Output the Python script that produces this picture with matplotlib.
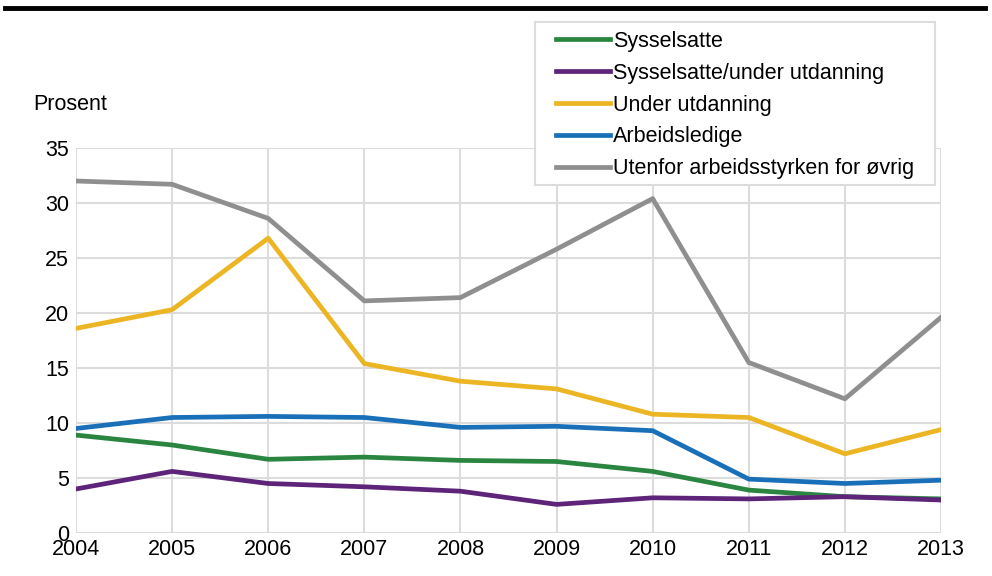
import numpy as np
import matplotlib.pyplot as plt
import matplotlib
from matplotlib.patches import Rectangle

matplotlib.rcParams['font.family'] = ['Liberation Sans', 'DejaVu Sans']

years = [2004, 2005, 2006, 2007, 2008, 2009, 2010, 2011, 2012, 2013]

sysselsatte = [8.9, 8.0, 6.7, 6.9, 6.6, 6.5, 5.6, 3.9, 3.3, 3.1]
syss_utd = [4.0, 5.6, 4.5, 4.2, 3.8, 2.6, 3.2, 3.1, 3.3, 3.0]
under_utd = [18.6, 20.3, 26.8, 15.4, 13.8, 13.1, 10.8, 10.5, 7.2, 9.4]
arbeidsledige = [9.5, 10.5, 10.6, 10.5, 9.6, 9.7, 9.3, 4.9, 4.5, 4.8]
utenfor = [32.0, 31.7, 28.6, 21.1, 21.4, 25.8, 30.4, 15.5, 12.2, 19.6]

labels = ['Sysselsatte', 'Sysselsatte/under utdanning', 'Under utdanning',
          'Arbeidsledige', 'Utenfor arbeidsstyrken for øvrig']
colors = ['#2a8540', '#5e2479', '#ebb524', '#1a70b8', '#8f8f8f']
series = [sysselsatte, syss_utd, under_utd, arbeidsledige, utenfor]

fs = 15.5
W, H = 992, 576

fig = plt.figure(figsize=(9.92, 5.76), dpi=100, facecolor='white')
ax = fig.add_axes([76 / W, 1 - 533 / H, (941 - 76) / W, (533 - 148) / H])

for vals, lab, col in zip(series, labels, colors):
    ax.plot(years, vals, color=col, linewidth=3.4, label=lab)

ax.set_xlim(2004, 2013)
ax.set_ylim(0, 35)
ax.set_xticks(years)
ax.set_yticks(np.arange(0, 36, 5))
ax.grid(True, color='#dcdcdc', linewidth=1.5)
ax.set_axisbelow(True)
for s in ax.spines.values():
    s.set_visible(False)
ax.tick_params(length=0, labelsize=fs, colors='black')
ax.tick_params(axis='y', pad=5)
ax.tick_params(axis='x', pad=4)

fig.text(33 / W, 1 - 105 / H, 'Prosent', fontsize=fs, va='center', ha='left')

# black rule at the top
fig.add_artist(plt.Line2D([5 / W, 985 / W], [1 - 8 / H, 1 - 8 / H],
                          color='black', linewidth=3.5))

# legend box drawn separately
fig.add_artist(Rectangle((535 / W, 1 - 185 / H), 400 / W, 163 / H,
                         transform=fig.transFigure, facecolor='white',
                         edgecolor='#dcdcdc', linewidth=1.5, zorder=5))
leg = fig.legend(loc='upper left', bbox_to_anchor=(556 / W, 1 - 31 / H),
                 fontsize=fs, frameon=False, handlelength=2.5,
                 handletextpad=0.15, borderpad=0, labelspacing=0.5,
                 borderaxespad=0)
leg.set_zorder(6)

plt.savefig('out.png', dpi=100)
